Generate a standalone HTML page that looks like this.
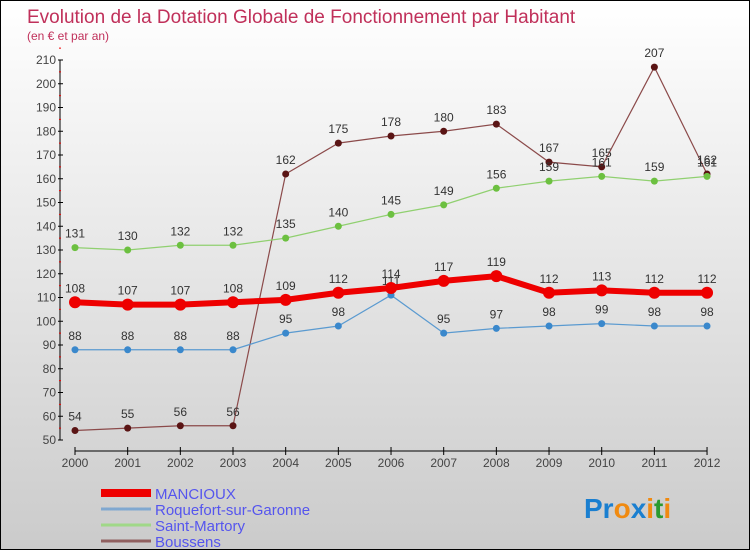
<!DOCTYPE html>
<html><head><meta charset="utf-8"><style>
body{margin:0}
#c{position:relative;width:748px;height:548px;border:1px solid #000;background:linear-gradient(#fff,#cbcbcb);overflow:hidden;font-family:"Liberation Sans",sans-serif}
</style></head><body>
<div id="c">
<svg width="748" height="548">
<text x="26" y="22" font-size="19" fill="#c0305a">Evolution de la Dotation Globale de Fonctionnement par Habitant</text>
<text x="26" y="39" font-size="12" fill="#c0305a">(en € et par an)</text>
<g id="axes"></g><g id="series"></g>
<g id="legend"></g>
<text x="583" y="517" font-size="28" font-weight="bold"><tspan fill="#1a7fd0">Pr</tspan><tspan fill="#f08a10">o</tspan><tspan fill="#1a7fd0">x</tspan><tspan fill="#f08a10">i</tspan><tspan fill="#2a9a30">t</tspan><tspan fill="#f08a10">i</tspan></text>
</svg></div>
<script>
const years=[2000,2001,2002,2003,2004,2005,2006,2007,2008,2009,2010,2011,2012];
const yTicks=[50,60,70,80,90,100,110,120,130,140,150,160,170,180,190,200,210];
const mancioux=[108,107,107,108,109,112,114,117,119,112,113,112,112];
const roquefort=[88,88,88,88,95,98,111,95,97,98,99,98,98];
const saintMartory=[131,130,132,132,135,140,145,149,156,159,161,159,161];
const boussens=[54,55,56,56,162,175,178,180,183,167,165,207,162];
const NS="http://www.w3.org/2000/svg";
function X(i){return 74+i*52.67}
function Y(v){return 439-(v-50)*2.375}
function mk(t,a,p){const e=document.createElementNS(NS,t);for(const k in a)e.setAttribute(k,a[k]);p.appendChild(e);return e}
const ax=document.getElementById('axes');
const yl=mk('line',{x1:59,x2:59,y1:Y(210),y2:Y(50),stroke:'#000'},ax);


const xl=mk('line',{x1:X(0),x2:X(12),y1:450,y2:450,stroke:'#000'},ax);


yTicks.forEach(v=>{
 mk('line',{x1:57,x2:62,y1:Y(v),y2:Y(v),stroke:'#000'},ax);
 mk('line',{x1:58,x2:60,y1:Y(v+5),y2:Y(v+5),stroke:'#e00'},ax);
 const t=mk('text',{x:55,y:Y(v)+4,'font-size':12,fill:'#444','text-anchor':'end'},ax);t.textContent=v;
 
 
});
years.forEach((y,i)=>{
 mk('line',{x1:X(i),x2:X(i),y1:446,y2:454,stroke:'#000'},ax);
 const t=mk('text',{x:X(i),y:466,'font-size':12,fill:'#444','text-anchor':'middle'},ax);t.textContent=y;
 
 
});
const sg=document.getElementById('series');
function series(d,col,dot,w,r,name){
 const g=mk('g',{},sg);
 
 
 mk('polyline',{points:d.map((v,i)=>X(i)+','+Y(v)).join(' '),fill:'none',stroke:col,'stroke-width':w},g);
 d.forEach((v,i)=>{
  const c=mk('circle',{cx:X(i),cy:Y(v),r:r,fill:dot},g);
  
  
  const t=mk('text',{x:X(i),y:Y(v)-10,'font-size':12,fill:'#333','text-anchor':'middle'},g);t.textContent=v;
  
  
 });
}
series(boussens,'#8b4a4a','#5a1414',1.2,3.5,'series-boussens');
series(saintMartory,'#90d070','#6cc040',1.2,3.5,'series-saint-martory');
series(roquefort,'#5a9ad0','#3a88cc',1.2,3.5,'series-roquefort');
series(mancioux,'#ee0000','#ee0000',6,6,'series-mancioux');
const lg=document.getElementById('legend');
const items=[['MANCIOUX','#ee0000',8],['Roquefort-sur-Garonne','#80a8d0',3],['Saint-Martory','#a0d888',3],['Boussens','#906060',3]];
items.forEach((it,i)=>{
 const y=492+i*16;
 const g=mk('g',{},lg);
 
 
 mk('line',{x1:100,x2:150,y1:y,y2:y,stroke:it[1],'stroke-width':it[2]},g);
 const t=mk('text',{x:154,y:y+6,'font-size':15,fill:'#5555ee'},g);t.textContent=it[0];
});
</script>
</body></html>
